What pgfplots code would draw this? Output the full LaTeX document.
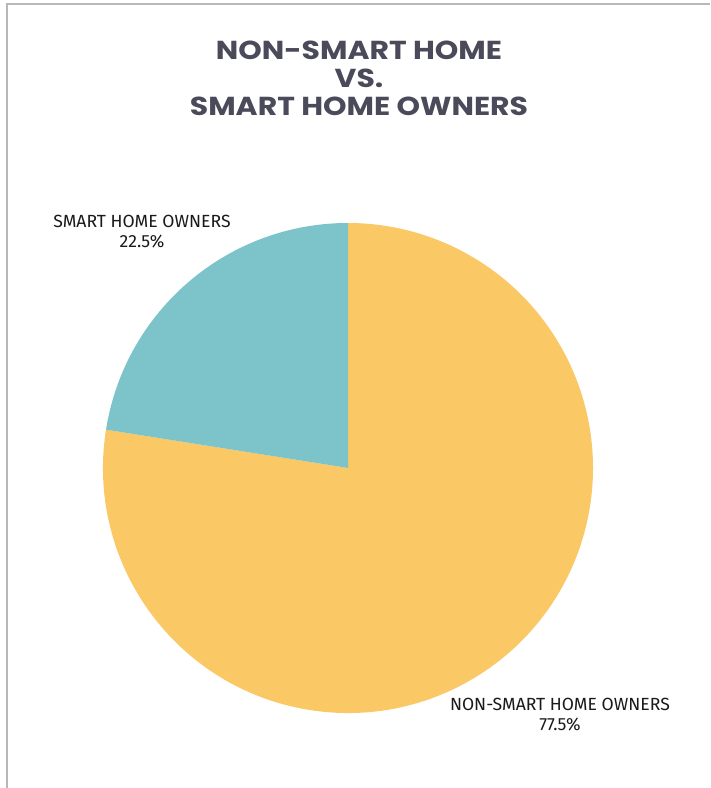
\documentclass[border=0pt]{standalone}
\usepackage{pgfplots}
\usepackage{pgfplotstable}
\pgfplotsset{compat=1.18}
\usepackage{fontspec}
\setmainfont{Fira Sans}
\newfontfamily\titlefont{Poppins}[UprightFont=* Bold,FakeStretch=1.15]
\definecolor{teal}{HTML}{7DC3CA}
\definecolor{yell}{HTML}{FAC864}
\definecolor{titlegray}{HTML}{4A4A5A}
\definecolor{labelblack}{HTML}{1A1A1A}
\pgfplotstableread{
label value
smart 22.5
nonsmart 77.5
}\piedata
\pgfplotstablegetelem{0}{value}\of\piedata \let\smartval\pgfplotsretval
\pgfplotstablegetelem{1}{value}\of\piedata \let\nonval\pgfplotsretval
\begin{document}
\begin{tikzpicture}
\useasboundingbox (0,0) rectangle (532.5pt,591pt);
\fill[white] (0,0) rectangle (532.5pt,591pt);
\begin{axis}[at={(0,0)},anchor=south west,scale only axis,
  width=532.5pt,height=591pt,xmin=0,xmax=710,ymin=0,ymax=788,
  hide axis,clip=false]
\pgfmathsetmacro{\smartend}{90+3.6*\smartval}
\pgfmathsetmacro{\nonend}{\smartend+3.6*\nonval}
% pie (1 unit = 0.75pt)
\fill[yell] (axis cs:348,320) -- ++(\smartend:183.75pt) arc[start angle=\smartend,end angle=\nonend,radius=183.75pt] -- cycle;
\fill[teal] (axis cs:348,320) -- ++(90:183.75pt) arc[start angle=90,end angle=\smartend,radius=183.75pt] -- cycle;
% border
\draw[color=black!28,line width=1.5pt] (axis cs:7,0) -- (axis cs:7,784) -- (axis cs:710,784);
% title
\node[anchor=base,text=titlegray,font=\titlefont\fontsize{19.5}{21}\selectfont] at (axis cs:359,728) {NON-SMART HOME};
\node[anchor=base,text=titlegray,font=\titlefont\fontsize{19.5}{21}\selectfont] at (axis cs:359,700) {VS.};
\node[anchor=base,text=titlegray,font=\titlefont\fontsize{19.5}{21}\selectfont] at (axis cs:359,672) {SMART HOME OWNERS};
% labels
\node[anchor=base,text=labelblack,font=\fontsize{13.2}{15}\selectfont] at (axis cs:142,560) {SMART HOME OWNERS};
\node[anchor=base,text=labelblack,font=\fontsize{13.2}{15}\selectfont] at (axis cs:142,540) {\pgfmathprintnumber[fixed,precision=1,fixed zerofill,assume math mode=true]{\smartval}\%};
\node[anchor=base,text=labelblack,font=\fontsize{13.2}{15}\selectfont] at (axis cs:560,77) {NON-SMART HOME OWNERS};
\node[anchor=base,text=labelblack,font=\fontsize{13.2}{15}\selectfont] at (axis cs:560,57) {\pgfmathprintnumber[fixed,precision=1,fixed zerofill,assume math mode=true]{\nonval}\%};
\end{axis}
\end{tikzpicture}
\end{document}
